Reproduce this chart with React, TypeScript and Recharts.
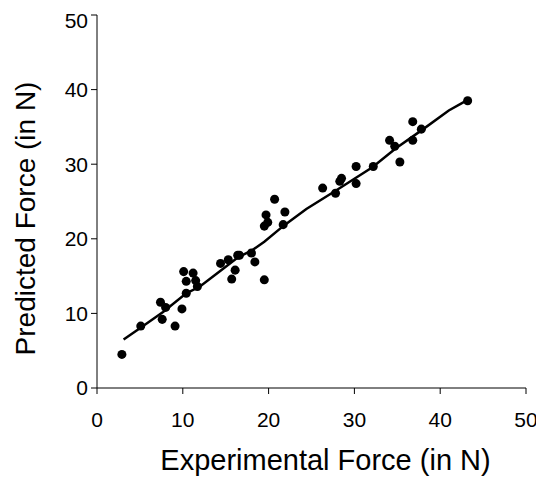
import { ScatterChart, Scatter, XAxis, YAxis } from "recharts";

const expForce = [
  2.9, 5.1, 7.4, 8.0, 7.6, 9.1, 9.9, 10.4, 10.1, 10.4, 11.2, 11.5, 11.7, 14.4, 15.3, 16.1, 15.7, 16.4,
  20.7, 19.7, 19.9, 19.5, 21.9, 21.7, 19.5, 18.0, 18.4, 16.6,
  36.8, 37.8, 36.8, 34.1, 34.7, 35.3, 32.2, 30.2, 30.2, 28.5, 28.3, 26.3, 27.8, 43.2,
];
const predForce = [
  4.5, 8.3, 11.5, 10.8, 9.2, 8.3, 10.6, 12.7, 15.6, 14.3, 15.4, 14.4, 13.6, 16.7, 17.2, 15.8, 14.6, 17.8,
  25.3, 23.2, 22.2, 21.7, 23.6, 21.9, 14.5, 18.1, 16.9, 17.8,
  35.7, 34.7, 33.2, 33.2, 32.4, 30.3, 29.7, 29.7, 27.4, 28.1, 27.7, 26.8, 26.1, 38.5,
];

const fitX = [3.1, 5.0, 7.7, 10.4, 12.0, 14.7, 16.4, 18.0, 19.5, 21.8, 24.4, 27.9, 32.1, 34.8, 37.9, 41.0, 43.0];
const fitY = [6.5, 8.0, 10.2, 12.7, 13.6, 16.0, 17.5, 18.4, 19.6, 21.8, 24.0, 26.5, 29.6, 32.1, 34.6, 37.2, 38.5];

const ticks = [0, 10, 20, 30, 40, 50];

const points = expForce.map((x, i) => ({ x, y: predForce[i] }));
const fitLine = fitX.map((x, i) => ({ x, y: fitY[i] }));

const FONT = "'Liberation Sans', Arial, sans-serif";
const tickStyle = { fill: "#000", fontSize: 21, fontFamily: FONT };

function YTitle({ viewBox }: any) {
  const cx = viewBox.x + 17;
  const cy = viewBox.y + viewBox.height / 2 + 17;
  return (
    <text x={cx} y={cy} transform={`rotate(-90, ${cx}, ${cy})`} textAnchor="middle" dominantBaseline="central"
      fill="#000" fontSize={28} fontFamily={FONT}>
      Predicted Force (in N)
    </text>
  );
}

function XTitle({ viewBox }: any) {
  const cx = viewBox.x + viewBox.width / 2 + 14;
  const cy = viewBox.y + 72;
  return (
    <text x={cx} y={cy} textAnchor="middle" dominantBaseline="central" fill="#000" fontSize={29} fontFamily={FONT}>
      Experimental Force (in N)
    </text>
  );
}

const noDot = () => <g />;

export default function App() {
  return (
    <div style={{ width: 536, height: 471, background: "#fff" }}>
      <ScatterChart width={536} height={471} margin={{ top: 7, right: 18, bottom: 0, left: 0 }}>
        <XAxis
          type="number"
          dataKey="x"
          domain={[0, 50]}
          ticks={ticks}
          tick={tickStyle}
          tickSize={6}
          tickMargin={18}
          axisLine={{ stroke: "#000" }}
          tickLine={{ stroke: "#000" }}
          height={91}
          label={<XTitle />}
        />
        <YAxis
          type="number"
          dataKey="y"
          domain={[0, 50]}
          ticks={ticks}
          tick={tickStyle}
          tickSize={6}
          tickMargin={3}
          axisLine={{ stroke: "#000" }}
          tickLine={{ stroke: "#000" }}
          width={89}
          label={<YTitle />}
        />
        <Scatter data={points} fill="#000" shape="circle" isAnimationActive={false} />
        <Scatter
          data={fitLine}
          line={{ stroke: "#000", strokeWidth: 2.5 }}
          shape={noDot}
          isAnimationActive={false}
        />
      </ScatterChart>
    </div>
  );
}
